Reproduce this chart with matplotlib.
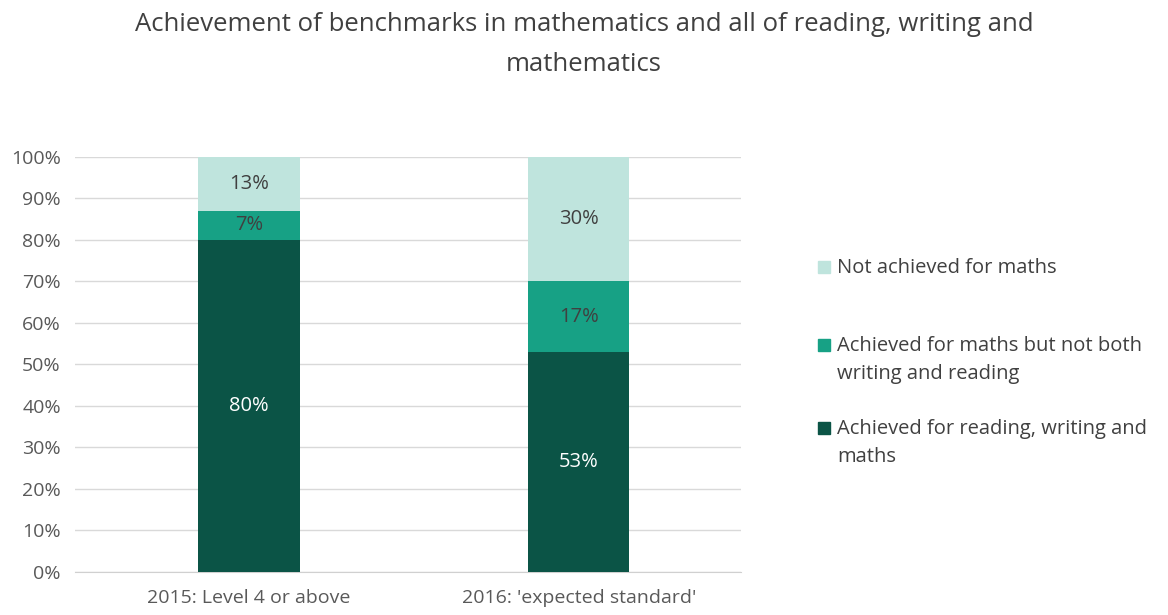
import matplotlib.pyplot as plt
from matplotlib.patches import Rectangle

categories = ["2015: Level 4 or above", "2016: 'expected standard'"]
all_three = [80, 53]
maths_only = [7, 17]
not_maths = [13, 30]
series_names = ["Achieved for reading, writing and\nmaths",
                "Achieved for maths but not both\nwriting and reading",
                "Not achieved for maths"]
colors = ["#0b5446", "#17a185", "#bfe4dd"]
label_colors = ["white", "#404040", "#404040"]

plt.rcParams['font.family'] = ['Open Sans', 'DejaVu Sans']

fig = plt.figure(figsize=(11.68, 6.15), dpi=100)
ax = fig.add_axes([0.064, 0.070, 0.570, 0.675])

x = list(range(len(categories)))
bottom = [0, 0]
for vals, name, col, lc in zip([all_three, maths_only, not_maths], series_names, colors, label_colors):
    ax.bar(x, vals, 0.307, bottom=bottom, color=col, label=name, zorder=3)
    for xi, v, b in zip(x, vals, bottom):
        ax.text(xi, b + v / 2, f"{v}%", ha="center", va="center", color=lc, fontsize=14.5, zorder=4)
    bottom = [b + v for b, v in zip(bottom, vals)]

ax.set_xlim(-0.528, 1.49)
ax.set_ylim(0, 100)
ax.set_yticks(range(0, 101, 10))
ax.set_yticklabels([f"{t}%" for t in range(0, 101, 10)])
ax.set_xticks(x)
ax.set_xticklabels(categories)
ax.tick_params(axis="both", length=0, colors="#595959", labelsize=14)
ax.tick_params(axis="x", pad=12)
ax.tick_params(axis="y", pad=10)
ax.grid(axis="y", color="#d9d9d9", linewidth=1, zorder=0)
for s in ["top", "right", "left"]:
    ax.spines[s].set_visible(False)
ax.spines["bottom"].set_color("#d0d0d0")

# legend drawn by hand to match the uneven spacing of the original
legend_y = [267, 345, 428]   # pixel rows of the first text line, top to bottom
W, H = 1168, 615
for name, col, py in zip(series_names[::-1], colors[::-1], legend_y):
    fig.patches.append(Rectangle((818 / W, 1 - (py + 6) / H), 12 / W, 12 / H,
                                 transform=fig.transFigure, color=col))
    fig.text(837 / W, 1 - (py - 9) / H, name, ha="left", va="top", fontsize=14.5,
             color="#404040", linespacing=1.55)

fig.text(0.5, 0.98, "Achievement of benchmarks in mathematics and all of reading, writing and\nmathematics",
         ha="center", va="top", fontsize=18.5, color="#404040", linespacing=1.75)

fig.savefig("out.png", dpi=100)
